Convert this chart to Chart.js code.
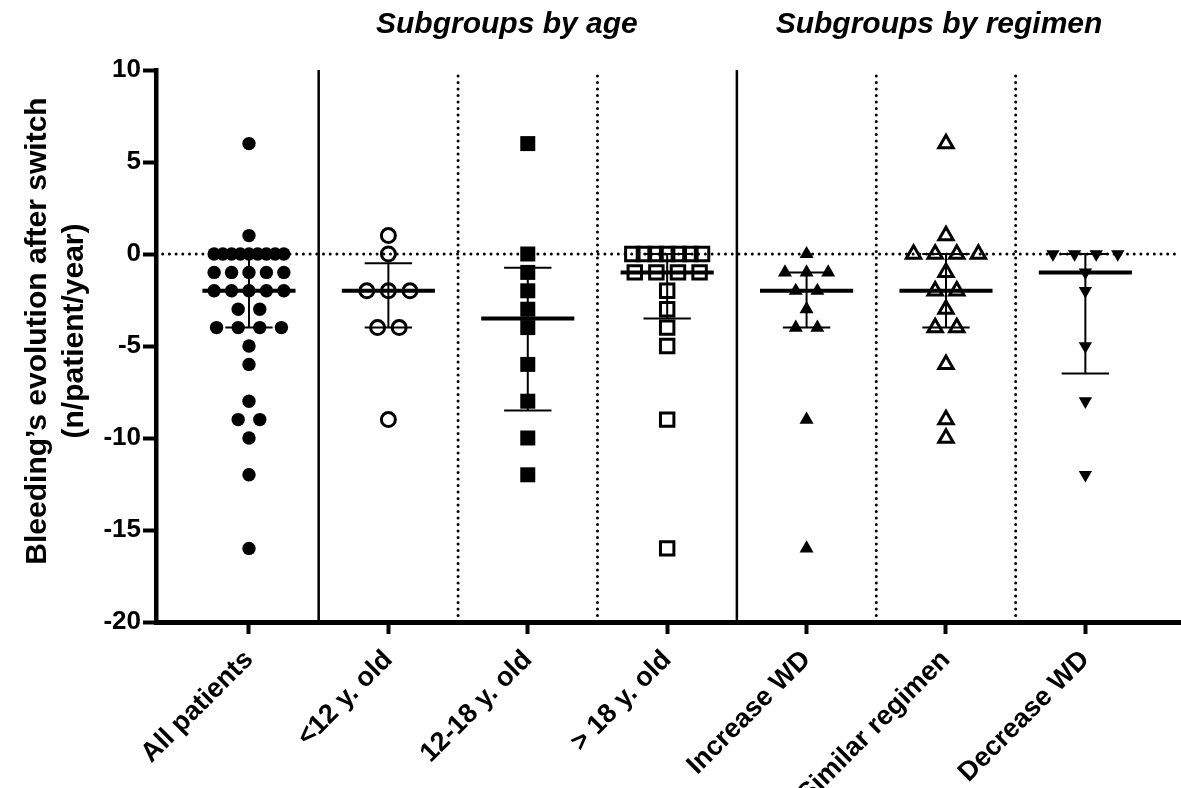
<!DOCTYPE html>
<html>
<head>
<meta charset="utf-8">
<script src="https://cdn.jsdelivr.net/npm/chart.js@4.4.1/dist/chart.umd.min.js"></script>
<style>
  html, body { margin: 0; padding: 0; background: #fff; }
</style>
</head>
<body>
<canvas id="chart" width="1181" height="788"></canvas>
<script>
// Data
const categories = ["All patients", "<12 y. old", "12-18 y. old", "> 18 y. old", "Increase WD", "Similar regimen", "Decrease WD"];

const allPatients = [6, 1, 0, 0, 0, 0, 0, 0, 0, 0, 0, -1, -1, -1, -1, -1, -2, -2, -2, -2, -2, -3, -3, -4, -4, -4, -4, -5, -6, -8, -9, -9, -10, -12, -16];
const under12 = [1, 0, -2, -2, -2, -4, -4, -9];
const age12to18 = [6, 0, -1, -2, -3, -4, -6, -8, -10, -12];
const over18 = [0, 0, 0, 0, 0, 0, 0, -1, -1, -1, -1, -2, -3, -4, -5, -9, -16];
const increaseWD = [0, -1, -1, -1, -2, -2, -3, -4, -4, -9, -16];
const similarRegimen = [6, 1, 0, 0, 0, 0, -1, -2, -2, -3, -4, -4, -6, -9, -10];
const decreaseWD = [0, 0, 0, 0, -1, -2, -5, -8, -12];

const yTicks = [10, 5, 0, -5, -10, -15, -20];
const yTitle = ["Bleeding’s evolution after switch", "(n/patient/year)"];
const groupTitles = ["Subgroups by age", "Subgroups by regimen"];
const subgroupStarts = [1, 4]; // first category of each subgroup block

// Layout / style constants
const FONT = '"Liberation Sans", Arial, sans-serif';
const X_MIN = -0.667, X_MAX = 6.686;
const MAX_STEP = 0.155, MAX_SPREAD = 0.5;
const MEDIAN_HALF = 0.334, CAP_HALF = 0.17;
const titleAnchors = [1.85, 4.95];

const groups = [allPatients, under12, age12to18, over18, increaseWD, similarRegimen, decreaseWD];
const markers = [
  { style: "circle", radius: 6.7, fill: true },
  { style: "circle", radius: 7, fill: false },
  { style: "rect", radius: 10.6, fill: true },
  { style: "rect", radius: 9.5, fill: false },
  { style: "triangle", radius: 8.1, fill: true },
  { style: "triangle", radius: 8.3, fill: false },
  { style: "triangle", radius: 7.7, fill: true, rotation: 180 },
];

// Prism-style quartiles
function quantile(vals, q) {
  const s = [...vals].sort((a, b) => a - b);
  const pos = q * (s.length + 1) - 1;
  const lo = Math.floor(pos);
  if (lo < 0) return s[0];
  if (lo >= s.length - 1) return s[s.length - 1];
  return s[lo] + (pos - lo) * (s[lo + 1] - s[lo]);
}

// spread equal values side by side
function swarm(vals, center) {
  const rows = {};
  vals.forEach((v) => (rows[v] = rows[v] || []).push(v));
  const pts = [];
  Object.keys(rows).forEach((k) => {
    const n = rows[k].length;
    const step = n > 1 ? Math.min(MAX_STEP, MAX_SPREAD / (n - 1)) : 0;
    for (let j = 0; j < n; j++) pts.push({ x: center + (j - (n - 1) / 2) * step, y: Number(k) });
  });
  return pts;
}

function lineSet(data, width, dash, order) {
  return {
    data: data,
    showLine: true,
    borderColor: "#000",
    borderWidth: width,
    borderDash: dash || [],
    borderCapStyle: dash ? "round" : "butt",
    pointRadius: 0,
    order: order,
  };
}

const datasets = [];

// zero reference line
datasets.push(lineSet([{ x: X_MIN, y: 0 }, { x: X_MAX, y: 0 }], 3, [0, 6.7], 3));

// separators between categories
for (let i = 0; i < categories.length - 1; i++) {
  const solid = subgroupStarts.includes(i + 1);
  const xs = i + 0.5;
  datasets.push(lineSet([{ x: xs, y: yTicks[yTicks.length - 1] }, { x: xs, y: yTicks[0] }],
    solid ? 2.5 : 3, solid ? null : [0, 6.5], 3));
}

groups.forEach((vals, i) => {
  const med = quantile(vals, 0.5);
  const q1 = quantile(vals, 0.25);
  const q3 = quantile(vals, 0.75);
  datasets.push(lineSet([{ x: i - MEDIAN_HALF, y: med }, { x: i + MEDIAN_HALF, y: med }], 4, null, 1));
  datasets.push(lineSet([{ x: i, y: q1 }, { x: i, y: q3 }], 2, null, 1));
  datasets.push(lineSet([{ x: i - CAP_HALF, y: q1 }, { x: i + CAP_HALF, y: q1 }], 2, null, 1));
  datasets.push(lineSet([{ x: i - CAP_HALF, y: q3 }, { x: i + CAP_HALF, y: q3 }], 2, null, 1));

  const m = markers[i];
  datasets.push({
    data: swarm(vals, i),
    pointStyle: m.style,
    pointRadius: m.radius,
    pointRotation: m.rotation || 0,
    backgroundColor: m.fill ? "#000" : "rgba(0,0,0,0)",
    borderColor: "#000",
    borderWidth: m.fill ? 0 : 3,
    order: 0,
  });
});

// group headings and the two-line y title
const titlePlugin = {
  id: "groupTitles",
  afterDraw(chart) {
    const { ctx } = chart;
    const x = chart.scales.x;
    ctx.save();
    ctx.fillStyle = "#000";
    ctx.textAlign = "center";
    ctx.textBaseline = "alphabetic";
    ctx.font = "italic bold 30px " + FONT;
    groupTitles.forEach((t, i) => ctx.fillText(t, x.getPixelForValue(titleAnchors[i]), 33));

    ctx.font = "bold 30px " + FONT;
    ctx.textBaseline = "middle";
    ctx.translate(0, 331);
    ctx.rotate(-Math.PI / 2);
    yTitle.forEach((t, i) => ctx.fillText(t, 0, 38 + i * 36.5));
    ctx.restore();
  },
};

new Chart(document.getElementById("chart"), {
  type: "scatter",
  data: { datasets: datasets },
  plugins: [titlePlugin],
  options: {
    responsive: false,
    animation: false,
    events: [],
    layout: { autoPadding: false, padding: { top: 70, right: 0, bottom: 0, left: 0 } },
    plugins: { legend: { display: false }, tooltip: { enabled: false } },
    scales: {
      x: {
        type: "linear",
        min: X_MIN,
        max: X_MAX,
        afterBuildTicks: (s) => { s.ticks = categories.map((_, i) => ({ value: i })); },
        afterFit: (s) => { s.height = 166; s.paddingLeft = 0; s.paddingRight = 0; },
        ticks: {
          autoSkip: false,
          minRotation: 45,
          maxRotation: 45,
          padding: 10,
          color: "#000",
          font: { family: FONT, weight: "bold", size: 27 },
          callback: (v) => categories[v] ?? "",
        },
        grid: { drawOnChartArea: false, drawTicks: true, tickLength: 12, tickWidth: 4, tickColor: "#000" },
        border: { color: "#000", width: 5 },
      },
      y: {
        min: yTicks[yTicks.length - 1],
        max: yTicks[0],
        afterBuildTicks: (s) => { s.ticks = yTicks.map((v) => ({ value: v })); },
        afterFit: (s) => { s.width = 156; },
        ticks: {
          padding: 2,
          color: "#000",
          font: { family: FONT, weight: "bold", size: 26 },
        },
        grid: { drawOnChartArea: false, drawTicks: true, tickLength: 13, tickWidth: 4, tickColor: "#000" },
        border: { color: "#000", width: 4.5 },
      },
    },
  },
});
</script>
</body>
</html>
